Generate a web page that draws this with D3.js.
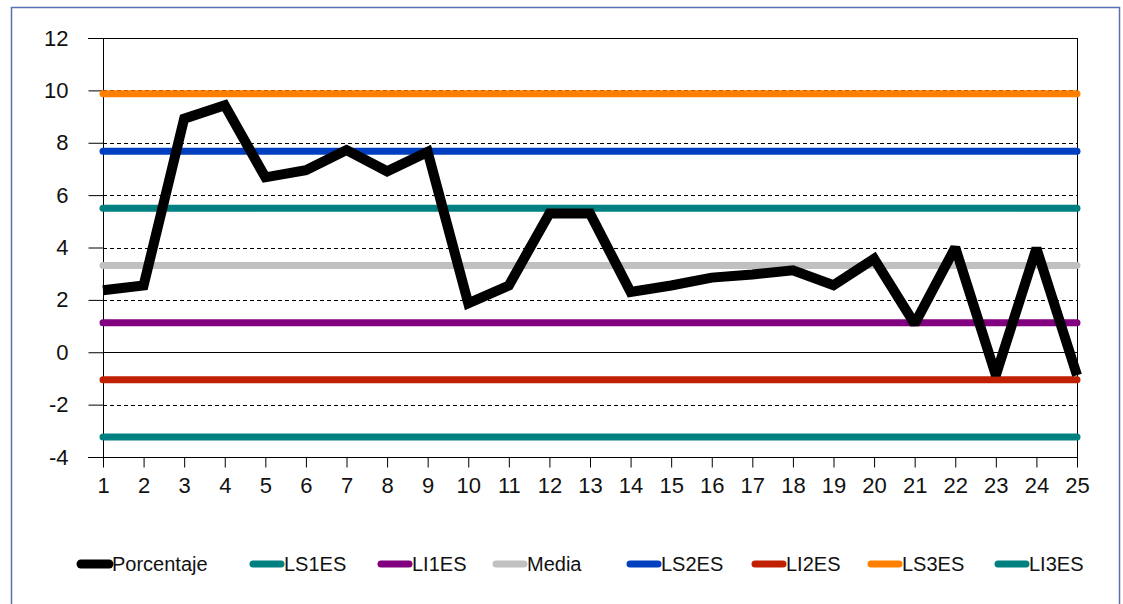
<!DOCTYPE html>
<html>
<head>
<meta charset="utf-8">
<script src="https://cdn.jsdelivr.net/npm/d3@7"></script>
<style>
  html, body { margin: 0; padding: 0; background: #fff; }
  svg { display: block; }
  text { font-family: "Liberation Sans", Arial, sans-serif; fill: #111; }
</style>
</head>
<body>
<svg id="chart" width="1123" height="604"></svg>
<script>
// ---- data ----
const periods = d3.range(1, 26);
const porcentaje = [2.37, 2.55, 8.92, 9.43, 6.68, 6.95, 7.72, 6.91, 7.65, 1.87,
                    2.55, 5.3, 5.3, 2.3, 2.55, 2.85, 2.97, 3.13, 2.56, 3.57,
                    1.08, 4.0, -0.88, 3.97, -0.88];
const limitNames  = ["LS1ES", "LI1ES", "Media", "LS2ES", "LI2ES", "LS3ES", "LI3ES"];
const limitValues = [5.5, 1.13, 3.31, 7.68, -1.05, 9.87, -3.24];
const yTicks = [-4, -2, 0, 2, 4, 6, 8, 10, 12];
const legendNames = ["Porcentaje", "LS1ES", "LI1ES", "Media", "LS2ES", "LI2ES", "LS3ES", "LI3ES"];

// ---- styles ----
const limitColors = {
  LS1ES: "#008080", LI1ES: "#800080", Media: "#c0c0c0", LS2ES: "#0040c0",
  LI2ES: "#c02000", LS3ES: "#ff8000", LI3ES: "#008080"
};
const legendX = [78, 250, 378, 493, 627, 752, 868, 995];

const svg = d3.select("#chart");
const pLeft = 103, pRight = 1077, pTop = 38, pBottom = 457;

// outer frame
svg.append("rect").attr("x", 11.5).attr("y", 7.5).attr("width", 1108).attr("height", 620)
  .attr("fill", "none").attr("stroke", "#5b6fb5").attr("stroke-width", 1.5);

const x = d3.scaleLinear().domain([1, 25]).range([pLeft, pRight]);
const y = d3.scaleLinear().domain([-4, 12]).range([pBottom, pTop]);
const fmt = d => String(d);

// gridlines
svg.append("g").selectAll("line").data(yTicks.filter(v => v > -4 && v < 12)).join("line")
  .attr("x1", pLeft).attr("x2", pRight)
  .attr("y1", d => Math.round(y(d)) + 0.5).attr("y2", d => Math.round(y(d)) + 0.5)
  .attr("stroke", "#000").attr("stroke-width", 1)
  .attr("stroke-dasharray", d => d === 0 ? null : "4,3");

// top and right frame
svg.append("line").attr("x1", pLeft - 15).attr("x2", pRight)
  .attr("y1", Math.round(y(12)) + 0.5).attr("y2", Math.round(y(12)) + 0.5).attr("stroke", "#000");
svg.append("line").attr("x1", pRight + 0.5).attr("x2", pRight + 0.5)
  .attr("y1", y(12)).attr("y2", y(-4) + 10).attr("stroke", "#000");

// y axis
const yAxis = svg.append("g").attr("transform", `translate(${pLeft + 0.5},0)`)
  .call(d3.axisLeft(y).tickValues(yTicks).tickSize(15).tickPadding(20).tickFormat(fmt));
yAxis.select(".domain").remove();
svg.append("line").attr("x1", pLeft + 0.5).attr("x2", pLeft + 0.5)
  .attr("y1", y(12)).attr("y2", y(-4) + 10).attr("stroke", "#000");
yAxis.selectAll(".tick line").attr("stroke", "#000");
yAxis.selectAll("text").attr("font-size", 22).style("font-family", "Liberation Sans, Arial, sans-serif").attr("fill", "#111");

// x axis
const xAxis = svg.append("g").attr("transform", `translate(0,${Math.round(y(-4)) + 0.5})`)
  .call(d3.axisBottom(x).tickValues(periods).tickSize(10).tickPadding(10).tickFormat(fmt));
xAxis.select(".domain").remove();
svg.append("line").attr("x1", pLeft - 15).attr("x2", pRight)
  .attr("y1", Math.round(y(-4)) + 0.5).attr("y2", Math.round(y(-4)) + 0.5).attr("stroke", "#000");
xAxis.selectAll(".tick line").attr("stroke", "#000");
xAxis.selectAll("text").attr("font-size", 22).style("font-family", "Liberation Sans, Arial, sans-serif").attr("fill", "#111");

// limit lines
const limits = limitNames.map((n, i) => ({ name: n, value: limitValues[i] }));
svg.append("g").selectAll("line").data(limits).join("line")
  .attr("x1", x(1)).attr("x2", x(25))
  .attr("y1", d => y(d.value)).attr("y2", d => y(d.value))
  .attr("stroke", d => limitColors[d.name]).attr("stroke-width", 7)
  .attr("stroke-linecap", "round");

// main series
const line = d3.line().x((d, i) => x(periods[i])).y(d => y(d));
svg.append("path").datum(porcentaje).attr("d", line)
  .attr("fill", "none").attr("stroke", "#000").attr("stroke-width", 10)
  .attr("stroke-linejoin", "miter").attr("stroke-miterlimit", 2).attr("stroke-linecap", "butt");

// legend
const ly = 564;
const lg = svg.append("g").selectAll("g").data(legendNames).join("g")
  .attr("transform", (d, i) => `translate(${legendX[i]},${ly})`);
lg.append("line").attr("x1", 3).attr("x2", 31).attr("y1", 0).attr("y2", 0)
  .attr("stroke", d => d === "Porcentaje" ? "#000" : limitColors[d])
  .attr("stroke-width", d => d === "Porcentaje" ? 9 : 7).attr("stroke-linecap", "round");
lg.append("text").attr("x", 34).attr("y", 0).attr("dy", "0.35em")
  .attr("font-size", 20).text(d => d);
</script>
</body>
</html>
